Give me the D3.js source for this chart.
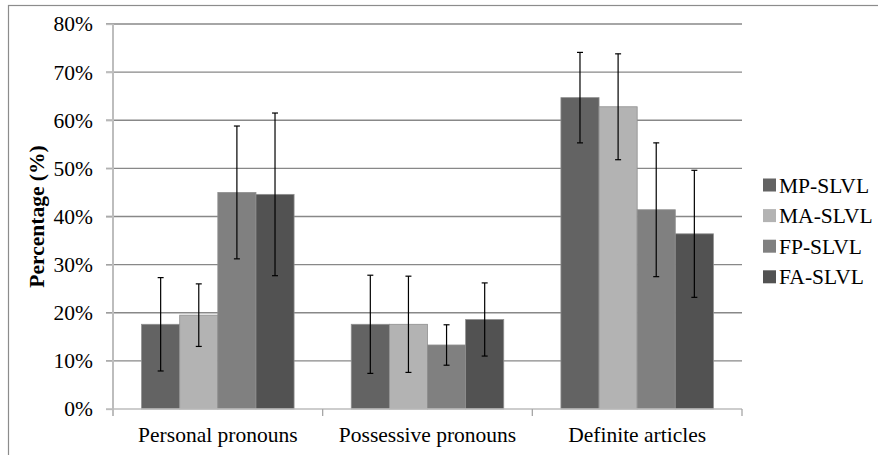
<!DOCTYPE html>
<html>
<head>
<meta charset="utf-8">
<script src="https://cdn.jsdelivr.net/npm/d3@7"></script>
<style>
    body { margin: 0; background: white; }
    svg { display: block; }
</style>
</head>
<body>
<div class="chart__container"></div>
<script>
// chart data
const categories = ['Personal pronouns', 'Possessive pronouns', 'Definite articles'];
const seriesNames = ['MP-SLVL', 'MA-SLVL', 'FP-SLVL', 'FA-SLVL'];
const seriesColors = ['#636363', '#b3b3b3', '#808080', '#525252'];
// bar heights (%), one array per series, one value per category
const mpValues = [17.6, 17.6, 64.7];
const maValues = [19.5, 17.6, 62.8];
const fpValues = [45.0, 13.3, 41.4];
const faValues = [44.6, 18.6, 36.4];
// error bar half-length (%)
const mpErrors = [9.7, 10.2, 9.4];
const maErrors = [6.5, 10.0, 11.0];
const fpErrors = [13.8, 4.2, 13.9];
const faErrors = [16.9, 7.6, 13.2];
const yTicks = [0, 10, 20, 30, 40, 50, 60, 70, 80];

function drawChart() {
    const width = 878, height = 455;
    const plot = {left: 113, right: 742, top: 24, bottom: 409};
    const font = "'Liberation Serif', 'Times New Roman', serif";

    const values = [mpValues, maValues, fpValues, faValues];
    const errors = [mpErrors, maErrors, fpErrors, faErrors];

    const svg = d3.select('.chart__container')
        .append('svg')
        .attr('width', width)
        .attr('height', height);

    // outer chart border (runs off the right / bottom edge)
    svg.append('rect')
        .attr('x', 8.5)
        .attr('y', 5.5)
        .attr('width', 900)
        .attr('height', 500)
        .attr('fill', 'none')
        .attr('stroke', '#8c8c8c')
        .attr('stroke-width', 1.2);

    const x0 = d3.scaleBand()
        .domain(categories)
        .range([plot.left, plot.right])
        .paddingInner(0)
        .paddingOuter(0);

    // gap width 150% -> bars take 4 / 5.5 of a category
    const bw = x0.bandwidth() / 5.5;
    const x1 = d3.scaleBand()
        .domain(seriesNames)
        .range([bw * 0.75, x0.bandwidth() - bw * 0.75]);

    const y = d3.scaleLinear()
        .domain([0, 80])
        .range([plot.bottom, plot.top]);

    // grid lines
    svg.append('g')
        .selectAll('line')
        .data(yTicks.slice(1))
        .enter()
        .append('line')
        .attr('x1', plot.left - 7)
        .attr('x2', plot.right)
        .attr('y1', function(d) { return y(d); })
        .attr('y2', function(d) { return y(d); })
        .attr('stroke', '#888888')
        .attr('stroke-width', 1.3);

    // y axis
    const yAxis = svg.append('g')
        .attr('transform', 'translate(' + plot.left + ',0)')
        .call(d3.axisLeft(y)
            .tickValues(yTicks)
            .tickSize(7)
            .tickPadding(13)
            .tickFormat(function(d) { return d + '%'; }));
    yAxis.select('.domain').remove();
    yAxis.selectAll('.tick line')
        .attr('stroke', '#bdbdbd')
        .attr('stroke-width', 1.3);
    yAxis.selectAll('text')
        .style('font-family', font)
        .style('font-size', '21.5px')
        .attr('fill', '#000');

    svg.append('line')
        .attr('x1', plot.left)
        .attr('x2', plot.left)
        .attr('y1', plot.top)
        .attr('y2', plot.bottom + 7)
        .attr('stroke', '#bdbdbd')
        .attr('stroke-width', 2);

    // bars
    const groups = svg.append('g')
        .selectAll('g')
        .data(categories)
        .enter()
        .append('g')
        .attr('transform', function(d) { return 'translate(' + x0(d) + ',0)'; });

    groups.selectAll('rect')
        .data(function(d, ci) {
            return seriesNames.map(function(s, si) {
                return {series: s, si: si, value: values[si][ci], err: errors[si][ci]};
            });
        })
        .enter()
        .append('rect')
        .attr('x', function(d) { return x1(d.series); })
        .attr('y', function(d) { return y(d.value); })
        .attr('width', x1.bandwidth())
        .attr('height', function(d) { return y(0) - y(d.value); })
        .attr('fill', function(d) { return seriesColors[d.si]; })
        .attr('stroke', '#8f8f8f')
        .attr('stroke-width', 0.8);

    // x axis
    svg.append('line')
        .attr('x1', plot.left - 7)
        .attr('x2', plot.right)
        .attr('y1', plot.bottom)
        .attr('y2', plot.bottom)
        .attr('stroke', '#bdbdbd')
        .attr('stroke-width', 1.5);

    const xAxis = svg.append('g')
        .attr('transform', 'translate(0,' + plot.bottom + ')')
        .call(d3.axisBottom(x0).tickSize(0).tickPadding(18));
    xAxis.select('.domain').remove();
    xAxis.selectAll('text')
        .style('font-family', font)
        .style('font-size', '21.5px')
        .attr('fill', '#000');

    // category boundary ticks
    svg.append('g')
        .selectAll('line')
        .data(categories.slice(1).concat(['end']))
        .enter()
        .append('line')
        .attr('x1', function(d) { return d === 'end' ? plot.right : x0(d); })
        .attr('x2', function(d) { return d === 'end' ? plot.right : x0(d); })
        .attr('y1', plot.bottom)
        .attr('y2', plot.bottom + 7)
        .attr('stroke', '#a6a6a6')
        .attr('stroke-width', 1.3);

    // error bars
    const eb = groups.selectAll('g.err')
        .data(function(d, ci) {
            return seriesNames.map(function(s, si) {
                return {series: s, value: values[si][ci], err: errors[si][ci]};
            });
        })
        .enter()
        .append('g')
        .attr('class', 'err')
        .attr('transform', function(d) {
            return 'translate(' + (x1(d.series) + x1.bandwidth() / 2) + ',0)';
        });

    eb.append('line')
        .attr('x1', 0).attr('x2', 0)
        .attr('y1', function(d) { return y(d.value + d.err); })
        .attr('y2', function(d) { return y(d.value - d.err); })
        .attr('stroke', '#000')
        .attr('stroke-width', 1.2);

    eb.selectAll('line.cap')
        .data(function(d) { return [d.value + d.err, d.value - d.err]; })
        .enter()
        .append('line')
        .attr('class', 'cap')
        .attr('x1', -3).attr('x2', 3)
        .attr('y1', function(d) { return y(d); })
        .attr('y2', function(d) { return y(d); })
        .attr('stroke', '#000')
        .attr('stroke-width', 1.2);

    // y axis title
    svg.append('text')
        .attr('transform', 'translate(44,' + ((plot.top + plot.bottom) / 2) + ') rotate(-90)')
        .attr('text-anchor', 'middle')
        .style('font-family', font)
        .style('font-size', '21.5px')
        .style('font-weight', 'bold')
        .text('Percentage (%)');

    // legend
    const legend = svg.append('g')
        .selectAll('g')
        .data(seriesNames)
        .enter()
        .append('g')
        .attr('transform', function(d, i) { return 'translate(763,' + (185 + i * 30.6) + ')'; });

    legend.append('rect')
        .attr('x', 0)
        .attr('y', -6.5)
        .attr('width', 13)
        .attr('height', 13)
        .attr('fill', function(d, i) { return seriesColors[i]; });

    legend.append('text')
        .attr('x', 16)
        .attr('y', 0)
        .attr('dy', '0.35em')
        .style('font-family', font)
        .style('font-size', '21.5px')
        .text(function(d) { return d; });
}

drawChart();
</script>
</body>
</html>
